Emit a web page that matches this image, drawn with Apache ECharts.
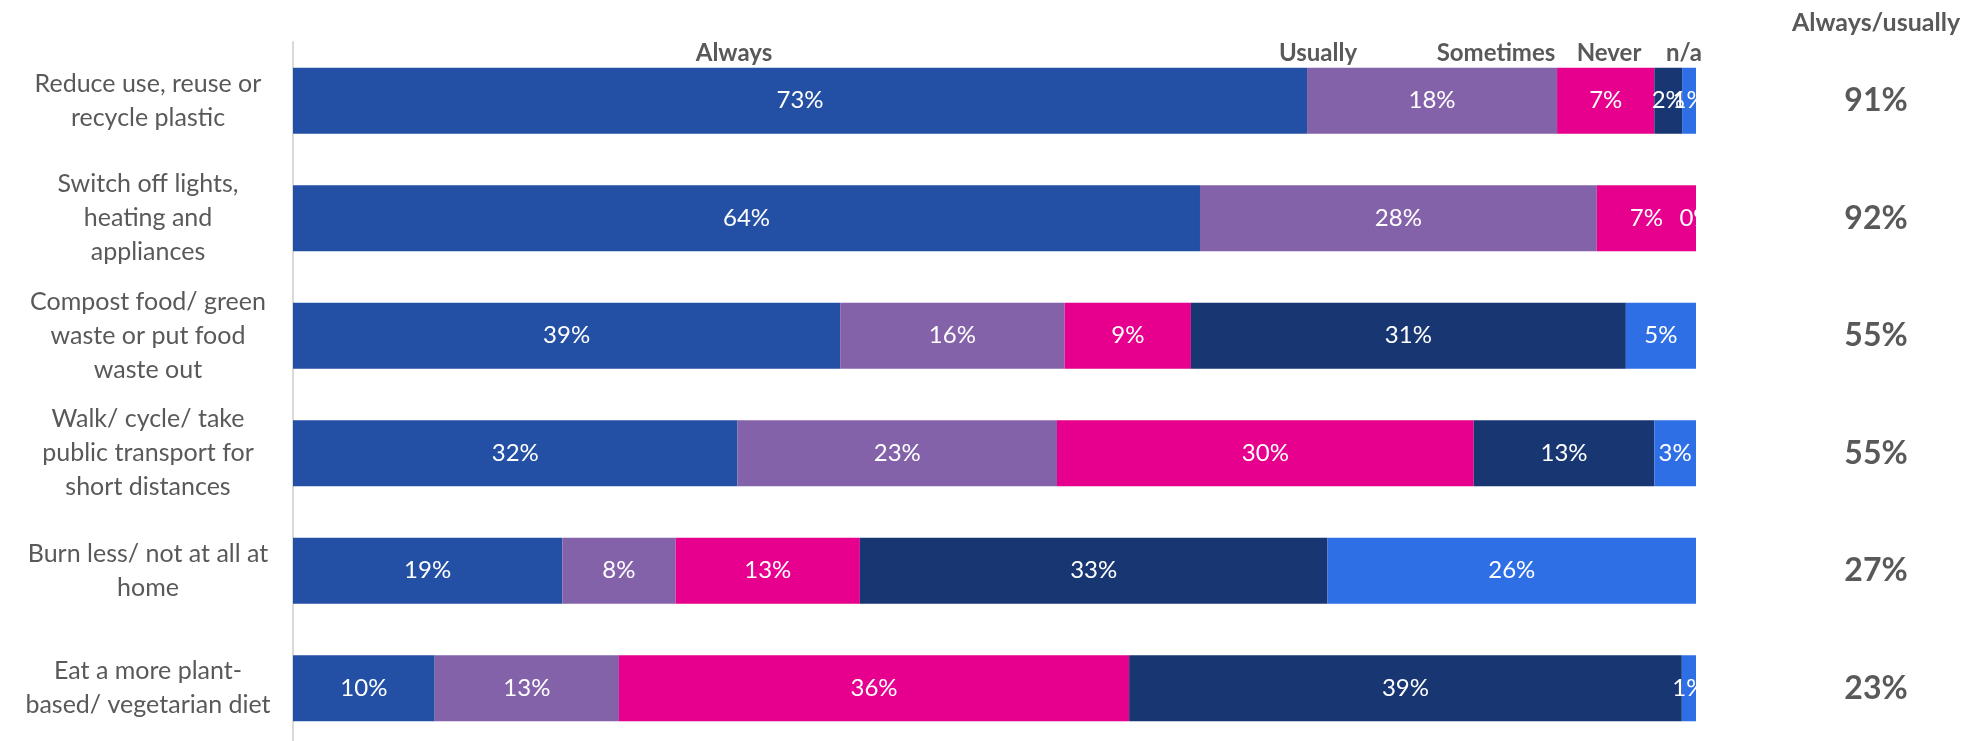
<!DOCTYPE html>
<html>
<head>
<meta charset="utf-8">
<script src="https://cdn.jsdelivr.net/npm/echarts@6/dist/echarts.min.js"></script>
<style>
html,body{margin:0;padding:0;background:#fff;}
#main{width:1982px;height:741px;}
</style>
</head>
<body>
<div id="main"></div>
<script>
const categories = [
  'Reduce use, reuse or\nrecycle plastic',
  'Switch off lights,\nheating and\nappliances',
  'Compost food/ green\nwaste or put food\nwaste out',
  'Walk/ cycle/ take\npublic transport for\nshort distances',
  'Burn less/ not at all at\nhome',
  'Eat a more plant-\nbased/ vegetarian diet'
];
const seriesNames = ['Always', 'Usually', 'Sometimes', 'Never', 'n/a'];
const always    = [73, 64, 39, 32, 19, 10];
const usually   = [18, 28, 16, 23, 8, 13];
const sometimes = [7, 7, 9, 30, 13, 36];
const never     = [2, 0, 31, 13, 33, 39];
const na        = [1, 0, 5, 3, 26, 1];
const alwaysUsually = [91, 92, 55, 55, 27, 23];
const colors = ['#2350A5', '#8462AA', '#E6008D', '#173672', '#2E6FE5'];

const raw = [always, usually, sometimes, never, na];
const totals = categories.map((c, i) => raw.reduce((s, arr) => s + arr[i], 0));
const FONT = 'Lato, "Open Sans", sans-serif';

const series = raw.map((arr, k) => ({
  name: seriesNames[k],
  type: 'bar',
  stack: 'total',
  barWidth: 66,
  itemStyle: { color: colors[k] },
  label: {
    show: true,
    position: 'inside',
    color: '#fff',
    fontSize: 24,
    fontFamily: FONT,
    formatter: p => {
      const v = arr[p.dataIndex];
      if (v === 0 && k === 4) return '';
      return v + '%';
    }
  },
  emphasis: { disabled: true },
  data: arr.map((v, i) => v / totals[i] * 100)
}));

const chart = echarts.init(document.getElementById('main'));
chart.setOption({
  animation: false,
  grid: { left: 293, right: 286, top: 42, height: 705, containLabel: false, outerBoundsMode: 'none' },
  xAxis: { type: 'value', min: 0, max: 100, show: false },
  yAxis: [
    {
      type: 'category',
      data: categories,
      inverse: true,
      axisLine: { show: true, lineStyle: { color: '#d9d9d9', width: 2 } },
      axisTick: { show: false },
      axisLabel: {
        margin: 145, align: 'center', fontSize: 25, lineHeight: 34,
        color: '#595959', fontFamily: FONT
      }
    },
    {
      type: 'category',
      data: categories,
      inverse: true,
      position: 'right',
      axisLine: { show: false },
      axisTick: { show: false },
      axisLabel: {
        margin: 180, align: 'center', fontSize: 32, fontWeight: 'bold',
        color: '#595959', fontFamily: FONT,
        formatter: (v, i) => alwaysUsually[i] + '%'
      }
    }
  ],
  graphic: [
    ...[['Always', 734, 53, 24], ['Usually', 1318, 53, 24], ['Sometimes', 1496, 53, 24], ['Never', 1609, 53, 24], ['n/a', 1684, 53, 24], ['Always/usually', 1876, 23, 25]]
      .map(([t, x, y, s]) => ({
        type: 'text', x: x, y: y,
        style: { text: t, fill: '#595959', font: 'bold ' + s + 'px ' + FONT, textAlign: 'center', textVerticalAlign: 'middle' }
      }))
  ],
  series: series
});
</script>
</body>
</html>
